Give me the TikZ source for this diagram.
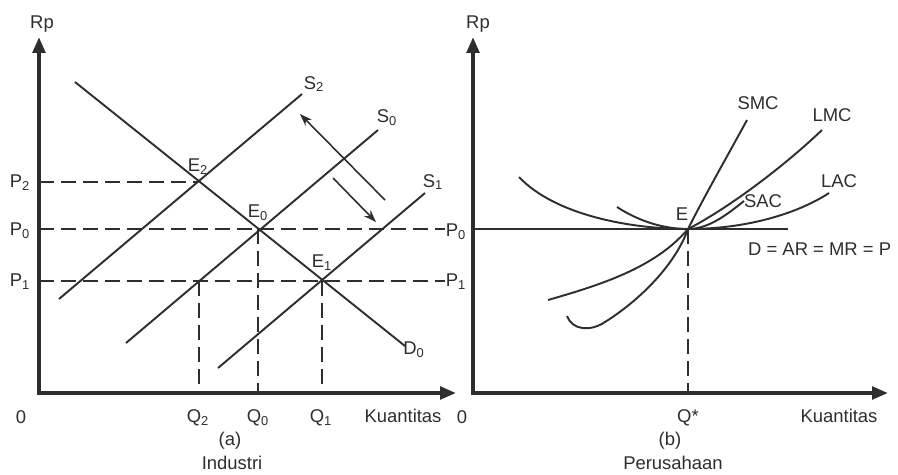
\documentclass[tikz,border=0pt]{standalone}
\usepackage{fontspec}
\setmainfont{Liberation Sans}
\usetikzlibrary{arrows.meta}
\definecolor{ink}{HTML}{2E2E2E}

\begin{document}
\begin{tikzpicture}[
  x=0.02cm, y=-0.02cm,
  font=\fontsize{10.5}{12}\selectfont,
  text=ink,
  axis/.style={
    draw=ink,
    line width=2.2pt,
    line join=miter,
    {Triangle[length=9pt,width=7pt]}-{Triangle[length=9pt,width=7pt]}
  },
  curve/.style={draw=ink, line width=1.1pt},
  guide/.style={draw=ink, line width=1.2pt, dash pattern=on 0.3cm off 0.14cm},
  level/.style={draw=ink, line width=1.1pt},
  movearrow/.style={draw=ink, line width=0.9pt, -{Stealth[length=7pt,width=5pt]}},
  lbl/.style={inner sep=1pt}
]
\useasboundingbox (0,0) rectangle (898,474);

% (a) industri
\coordinate (topA) at (39,37);
\coordinate (orgA) at (39,393);
\coordinate (endA) at (456,393);
\draw[axis] (topA) -- (orgA) -- (endA);

\coordinate (e2) at (197,182);
\coordinate (e0) at (258,229);
\coordinate (e1) at (322,281);
\coordinate (f2) at (199,281);
\coordinate (p2a) at (39,182);
\coordinate (p0a) at (39,229);
\coordinate (p1a) at (39,281);
\coordinate (p0b) at (445,229);
\coordinate (p1b) at (445,281);
\coordinate (q2) at (199,393);
\coordinate (q0) at (258,393);
\coordinate (q1) at (322,393);

\draw[guide] (p2a) -- (e2);
\draw[guide] (p0a) -- (p0b);
\draw[guide] (p1a) -- (p1b);
\draw[guide] (f2) -- (q2);
\draw[guide] (e0) -- (q0);
\draw[guide] (e1) -- (q1);

\coordinate (d0s) at (75,82);
\coordinate (d0e) at (405,346);
\coordinate (s2s) at (59,299);
\coordinate (s2e) at (302,94);
\coordinate (s0s) at (126,343);
\coordinate (s0e) at (378,130);
\coordinate (s1s) at (218,368);
\coordinate (s1e) at (425,193);
\draw[curve] (d0s) -- (d0e);
\draw[curve] (s2s) -- (s2e);
\draw[curve] (s0s) -- (s0e);
\draw[curve] (s1s) -- (s1e);

\coordinate (upS) at (385,200);
\coordinate (upE) at (300,114);
\coordinate (dnS) at (333,178);
\coordinate (dnE) at (376,222);
\draw[movearrow] (upS) -- (upE);
\draw[movearrow] (dnS) -- (dnE);

\node[lbl] (rpA) at (42,24) {Rp};
\node[lbl] (zeroA) at (21,417) {0};
\node[lbl] (lp2) at (20,183) {P\textsubscript{2}};
\node[lbl] (lp0) at (20,231) {P\textsubscript{0}};
\node[lbl] (lp1) at (20,282) {P\textsubscript{1}};
\node[lbl] (rp0) at (456,232) {P\textsubscript{0}};
\node[lbl] (rp1) at (456,282) {P\textsubscript{1}};
\node[lbl] (le2) at (198,167) {E\textsubscript{2}};
\node[lbl] (le0) at (258,213) {E\textsubscript{0}};
\node[lbl] (le1) at (322,263) {E\textsubscript{1}};
\node[lbl] (ls2) at (314,84) {S\textsubscript{2}};
\node[lbl] (ls0) at (387,118) {S\textsubscript{0}};
\node[lbl] (ls1) at (433,182) {S\textsubscript{1}};
\node[lbl] (ld0) at (414,350) {D\textsubscript{0}};
\node[lbl] (lq2) at (198,418) {Q\textsubscript{2}};
\node[lbl] (lq0) at (258,418) {Q\textsubscript{0}};
\node[lbl] (lq1) at (321,418) {Q\textsubscript{1}};
\node[lbl] (kuA) at (403,416) {Kuantitas};
\node[lbl] (capA) at (230,441) {(a)};
\node[lbl] (nmA) at (232,463) {Industri};

% (b) perusahaan
\coordinate (topB) at (473,37);
\coordinate (orgB) at (473,393);
\coordinate (endB) at (888,393);
\draw[axis] (topB) -- (orgB) -- (endB);

\coordinate (eq) at (688,229);
\coordinate (p0c) at (473,229);
\coordinate (p0d) at (788,229);
\coordinate (qs) at (688,393);
\draw[level] (p0c) -- (p0d);
\draw[guide] (eq) -- (qs);

\coordinate (lacS) at (519,177);
\coordinate (lacE) at (829,193);
\coordinate (sacS) at (617,207);
\coordinate (sacE) at (744,201);
\coordinate (smcS) at (567,316);
\coordinate (smcE) at (747,120);
\coordinate (lmcS) at (548,300);
\coordinate (lmcE) at (822,130);
\draw[curve] (lacS) .. controls (555,215) and (630,229) .. (eq)
  .. controls (750,229) and (800,212) .. (lacE);
\draw[curve] (sacS) .. controls (640,222) and (665,229) .. (eq)
  .. controls (710,229) and (730,212) .. (sacE);
\draw[curve] (smcS) .. controls (572,330) and (590,332) .. (605,322)
  .. controls (640,300) and (675,265) .. (eq)
  .. controls (705,195) and (728,155) .. (smcE);
\draw[curve] (lmcS) .. controls (600,285) and (655,268) .. (eq)
  .. controls (725,210) and (780,170) .. (lmcE);

\node[lbl] (rpB) at (478,24) {Rp};
\node[lbl] (zeroB) at (462,417) {0};
\node[lbl] (le) at (682,214) {E};
\node[lbl] (lsmc) at (758,103) {SMC};
\node[lbl] (llmc) at (832,115) {LMC};
\node[lbl] (llac) at (839,181) {LAC};
\node[lbl] (lsac) at (763,201) {SAC};
\node[lbl, anchor=west] (ldem) at (746,249) {D = AR = MR = P};
\node[lbl] (lqs) at (688,418) {Q*};
\node[lbl] (kuB) at (839,416) {Kuantitas};
\node[lbl] (capB) at (670,441) {(b)};
\node[lbl] (nmB) at (673,463) {Perusahaan};

\end{tikzpicture}
\end{document}
